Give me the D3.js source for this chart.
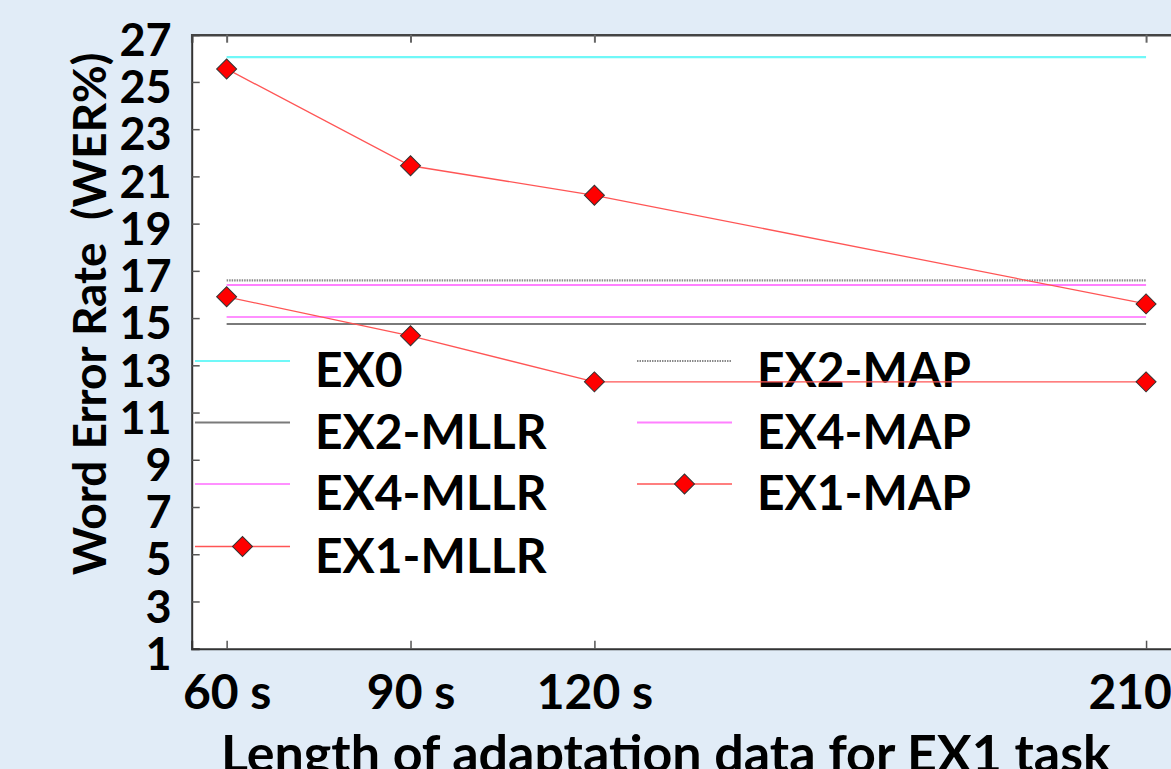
<!DOCTYPE html>
<html>
<head>
<meta charset="utf-8">
<script src="https://cdn.jsdelivr.net/npm/d3@7"></script>
<style>
  html, body { margin: 0; padding: 0; background: #e1ecf7; overflow: hidden; }
  svg { display: block; font-family: Lato, "Open Sans", sans-serif; font-weight: 700; }
</style>
</head>
<body>
<script>
const xValues = [60, 90, 120, 210]
const xLabels = ["60 s", "90 s", "120 s", "210 s"]
const yTicks = [1, 3, 5, 7, 9, 11, 13, 15, 17, 19, 21, 23, 25, 27]

// baselines are flat across every adaptation length
const ex0 = [26.05, 26.05, 26.05, 26.05]
const ex2Map = [16.6, 16.6, 16.6, 16.6]
const ex4Map = [16.4, 16.4, 16.4, 16.4]
const ex4Mllr = [15.05, 15.05, 15.05, 15.05]
const ex2Mllr = [14.75, 14.75, 14.75, 14.75]
const ex1Map = [25.55, 21.45, 20.2, 15.6]
const ex1Mllr = [15.9, 14.25, 12.3, 12.3]

const series = [
  { name: "EX0", values: ex0, color: "#70f8f8", width: 2.2, dash: null, marker: false },
  { name: "EX2-MLLR", values: ex2Mllr, color: "#7a7a7a", width: 2, dash: null, marker: false },
  { name: "EX4-MLLR", values: ex4Mllr, color: "#ff90ff", width: 2, dash: null, marker: false },
  { name: "EX1-MLLR", values: ex1Mllr, color: "#ff5555", width: 1.3, dash: null, marker: true },
  { name: "EX2-MAP", values: ex2Map, color: "#8a8a8a", width: 2.2, dash: "1.5,1", marker: false },
  { name: "EX4-MAP", values: ex4Map, color: "#ff80ff", width: 2, dash: null, marker: false },
  { name: "EX1-MAP", values: ex1Map, color: "#ff5555", width: 1.3, dash: null, marker: true }
]

const width = 1171
const height = 769
const margin = { top: 34.7, left: 191.7, bottom: 120.3, right: -10 }

const x = d3.scaleLinear()
  .domain([54.3, 215.7])
  .range([margin.left, width - margin.right])

const y = d3.scaleLinear()
  .domain([1, 27])
  .range([height - margin.bottom, margin.top])

const svg = d3.select("body").append("svg")
  .attr("width", width)
  .attr("height", height)

svg.append("rect")
  .attr("x", x.range()[0])
  .attr("y", y.range()[1])
  .attr("width", x.range()[1] - x.range()[0])
  .attr("height", y.range()[0] - y.range()[1])
  .attr("fill", "#ffffff")

// axes with inward ticks
const yAxis = svg.append("g")
  .attr("transform", `translate(${margin.left},0)`)
  .call(d3.axisLeft(y).tickValues(yTicks).tickSize(-8).tickPadding(20).tickFormat(d3.format("d")))
yAxis.select(".domain").attr("stroke", "#333").attr("stroke-width", 2)
yAxis.selectAll(".tick line").attr("stroke", "#555").attr("stroke-width", 1.5)
yAxis.selectAll(".tick text")
  .attr("font-size", 45)
  .attr("font-family", "Lato, sans-serif")
  .attr("font-weight", 700)
  .attr("fill", "#000")
  .attr("dy", "0.46em")

const xAxis = svg.append("g")
  .attr("transform", `translate(0,${y.range()[0]})`)
  .call(d3.axisBottom(x).tickValues(xValues).tickSize(-8).tickFormat((d, i) => xLabels[i]))
xAxis.select(".domain").attr("stroke", "#333").attr("stroke-width", 2)
xAxis.selectAll(".tick line").attr("stroke", "#555").attr("stroke-width", 1.5)
xAxis.selectAll(".tick text")
  .attr("font-size", 48)
  .attr("font-family", "Lato, sans-serif")
  .attr("font-weight", 700)
  .attr("fill", "#000")
  .attr("y", 60)
  .attr("dy", 0)

const topAxis = svg.append("g")
  .attr("transform", `translate(0,${y.range()[1]})`)
  .call(d3.axisTop(x).tickValues(xValues).tickSize(-8).tickFormat(""))
topAxis.select(".domain").attr("stroke", "#444").attr("stroke-width", 2.5)
topAxis.selectAll(".tick line").attr("stroke", "#666").attr("stroke-width", 2)

svg.append("text")
  .attr("x", 666)
  .attr("y", 772)
  .attr("text-anchor", "middle")
  .attr("font-size", 52)
  .text("Length of adaptation data for EX1 task")

svg.append("text")
  .attr("transform", "translate(106,314) rotate(-90)")
  .attr("text-anchor", "middle")
  .attr("font-size", 46)
  .style("white-space", "pre")
  .text("Word Error Rate  (WER%)")

// legend, 4 rows per column
const legendRowY = [361, 422.5, 484, 546.5]
const legendCols = [{ x0: 195, x1: 290, tx: 315 }, { x0: 637, x1: 732, tx: 757 }]
const diamond = d3.symbol(d3.symbolSquare, 200)

const legend = svg.append("g")
  .selectAll("g")
  .data(series)
  .join("g")
  .attr("transform", (d, i) => {
    const col = legendCols[Math.floor(i / 4)]
    return `translate(${col.x0},${legendRowY[i % 4]})`
  })

legend.append("line")
  .attr("x1", 0)
  .attr("x2", (d, i) => legendCols[Math.floor(i / 4)].x1 - legendCols[Math.floor(i / 4)].x0)
  .attr("stroke", d => d.color)
  .attr("stroke-width", d => d.width)
  .attr("stroke-dasharray", d => d.dash)

legend.filter(d => d.marker)
  .append("path")
  .attr("d", diamond)
  .attr("transform", "translate(47.5,0) rotate(45)")
  .attr("fill", "#ff0000")
  .attr("stroke", "#333")
  .attr("stroke-width", 1)

legend.append("text")
  .attr("x", (d, i) => legendCols[Math.floor(i / 4)].tx - legendCols[Math.floor(i / 4)].x0)
  .attr("y", 26)
  .attr("font-size", 48)
  .attr("fill", "#000")
  .text(d => d.name)

// data lines
const line = d3.line()
  .x((d, i) => x(xValues[i]))
  .y(d => y(d))

svg.append("g")
  .selectAll("path")
  .data(series)
  .join("path")
  .attr("fill", "none")
  .attr("stroke", d => d.color)
  .attr("stroke-width", d => d.width)
  .attr("stroke-dasharray", d => d.dash)
  .attr("d", d => line(d.values))

svg.append("g")
  .selectAll("g")
  .data(series.filter(d => d.marker))
  .join("g")
  .selectAll("path")
  .data(d => d.values)
  .join("path")
  .attr("d", diamond)
  .attr("transform", (d, i) => `translate(${x(xValues[i])},${y(d)}) rotate(45)`)
  .attr("fill", "#ff0000")
  .attr("stroke", "#333")
  .attr("stroke-width", 1)
</script>
</body>
</html>
